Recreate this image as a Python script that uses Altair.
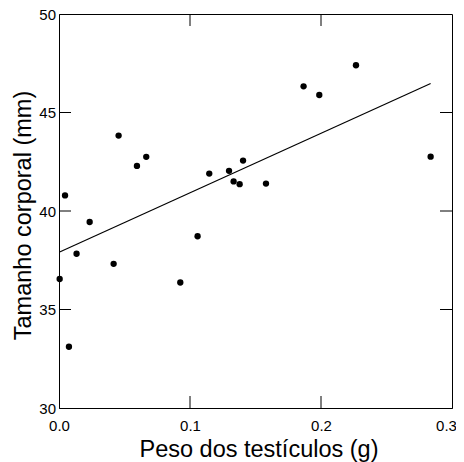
import altair as alt
import pandas as pd

# Data
peso = [0.0005, 0.0046, 0.0076, 0.0134, 0.0234, 0.0417, 0.0455, 0.0595, 0.0666,
        0.0926, 0.1058, 0.1147, 0.1298, 0.1333, 0.1379, 0.1405, 0.1580, 0.1867,
        0.1987, 0.2267, 0.2837]
tamanho = [36.55, 40.79, 33.11, 37.83, 39.44, 37.32, 43.83, 42.29, 42.75,
           36.37, 38.72, 41.90, 42.04, 41.50, 41.36, 42.56, 41.39, 46.33,
           45.89, 47.40, 42.76]

fit_x = [0.0005, 0.2837]
fit_y = [37.92, 46.47]

x_ticks = [0.1, 0.2]
y_ticks = [35, 40, 45]
x_labels = [0.0, 0.1, 0.2, 0.3]
y_labels = [30, 35, 40, 45, 50]

W, H = 393, 394
TICK = 12
FONT = "Liberation Sans"

pts = pd.DataFrame({"peso": peso, "tamanho": tamanho})
fit = pd.DataFrame({"peso": fit_x, "tamanho": fit_y})
xt = pd.DataFrame({"v": x_ticks})
yt = pd.DataFrame({"v": y_ticks})

xscale = alt.Scale(domain=[0, 0.3], nice=False, zero=False)
yscale = alt.Scale(domain=[30, 50], nice=False, zero=False)

xaxis = alt.Axis(values=x_labels, format=".1f", ticks=False, grid=False,
                 labelFlush=False, labelOverlap=False,
                 labelOffset={"condition": {"test": "datum.value >= 0.29", "value": -6}, "value": 0},
                 labelPadding=10.5, labelFontSize=15, labelFont=FONT, labelColor="black",
                 domainColor="black", domainWidth=1,
                 title="Peso dos testículos (g)", titleFont=FONT, titleFontSize=23.5,
                 titleFontWeight="normal", titleColor="black",
                 titleBaseline="alphabetic", titleY=48, titleX=W / 2 + 3)
yaxis = alt.Axis(values=y_labels, ticks=False, grid=False,
                 labelFlush=False, labelOverlap=False,
                 labelPadding=3.5, labelFontSize=15, labelFont=FONT, labelColor="black",
                 domainColor="black", domainWidth=1,
                 title="Tamanho corporal (mm)", titleFont=FONT, titleFontSize=23.5,
                 titleFontWeight="normal", titleColor="black",
                 titleBaseline="alphabetic", titleX=-29, titleY=H / 2 + 4, titleAngle=270)

points = alt.Chart(pts).mark_circle(color="black", opacity=1, size=40).encode(
    x=alt.X("peso:Q", scale=xscale, axis=xaxis),
    y=alt.Y("tamanho:Q", scale=yscale, axis=yaxis),
)

line = alt.Chart(fit).mark_line(color="black", strokeWidth=1.2).encode(
    x=alt.X("peso:Q", scale=xscale),
    y=alt.Y("tamanho:Q", scale=yscale),
)

bottom_ticks = alt.Chart(xt).mark_rule(color="black", strokeWidth=1).encode(
    x=alt.X("v:Q", scale=xscale), y=alt.value(H), y2=alt.value(H - TICK))
top_ticks = alt.Chart(xt).mark_rule(color="black", strokeWidth=1).encode(
    x=alt.X("v:Q", scale=xscale), y=alt.value(0), y2=alt.value(TICK))
left_ticks = alt.Chart(yt).mark_rule(color="black", strokeWidth=1).encode(
    y=alt.Y("v:Q", scale=yscale), x=alt.value(0), x2=alt.value(TICK))
right_ticks = alt.Chart(yt).mark_rule(color="black", strokeWidth=1).encode(
    y=alt.Y("v:Q", scale=yscale), x=alt.value(W), x2=alt.value(W - TICK))

chart = alt.layer(line, points, bottom_ticks, top_ticks, left_ticks, right_ticks).properties(
    width=W, height=H,
    autosize=alt.AutoSizeParams(type="none"),
    padding={"left": 51, "top": 6, "right": 4, "bottom": 56},
    background="white",
).configure_view(stroke="black", strokeWidth=1)

chart.save("out.html", embed_options={"renderer": "svg", "actions": False})
